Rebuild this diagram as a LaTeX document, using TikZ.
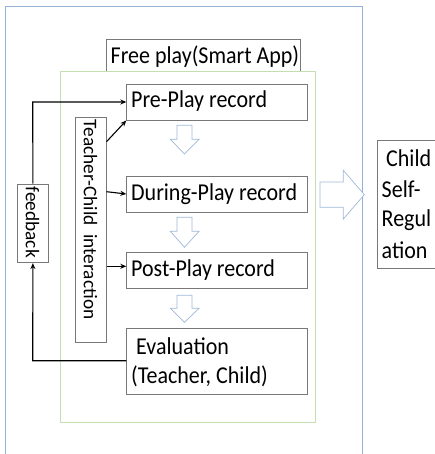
\documentclass[tikz,border=0pt]{standalone}
\usepackage{fontspec}
\setmainfont{Carlito}
\usetikzlibrary{arrows.meta}
\definecolor{outerblue}{RGB}{150,178,212}
\definecolor{innergreen}{RGB}{196,222,178}
\definecolor{boxgray}{RGB}{120,120,120}
\definecolor{arrowblue}{RGB}{160,184,216}
\newcommand{\tallt}[1]{\scalebox{1}[1.1]{#1}}
\tikzset{
  box/.style={draw=boxgray, line width=0.8pt, inner sep=0pt, anchor=north west},
  bigtext/.style={font=\fontsize{22}{30}\selectfont},
  smalltext/.style={font=\fontsize{19.3}{22}\selectfont},
  conn/.style={line width=1.1pt, -{Stealth[length=6pt,width=5pt]}},
  blockarrow/.style={draw=arrowblue, line width=0.7pt, fill=white, line join=miter},
}
\begin{document}
\begin{tikzpicture}[x=1pt,y=-1pt]
\useasboundingbox (0,0) rectangle (435,454);
% outer blue frame
\draw[outerblue, line width=0.8pt] (5.3,460) -- (5.3,6) -- (362,6) -- (362,460);
% free play box
\node[box, minimum width=193.5pt, minimum height=33pt] (free) at (106,39.5) {};
\node[bigtext, anchor=west, inner sep=0pt] (freet) at (110.5,57) {\tallt{Free play(Smart App)}};
% green frame
\node[draw=innergreen, fill=white, line width=0.8pt, minimum width=254.7pt, minimum height=350.4pt, anchor=north west, inner sep=0pt] (green) at (60.3,71.3) {};
% record boxes
\node[box, minimum width=181pt, minimum height=36pt] (pre) at (126.3,83.7) {};
\node[bigtext, anchor=west, inner sep=0pt] (pret) at (131,101.5) {\tallt{Pre-Play record}};
\node[box, minimum width=181pt, minimum height=35.7pt] (during) at (126.3,176.3) {};
\node[bigtext, anchor=west, inner sep=0pt] (duringt) at (131,194) {\tallt{During-Play record}};
\node[box, minimum width=181pt, minimum height=35.7pt] (post) at (126.3,252.3) {};
\node[bigtext, anchor=west, inner sep=0pt] (postt) at (131,270) {\tallt{Post-Play record}};
\node[box, minimum width=181pt, minimum height=66.6pt] (eval) at (126.3,327.7) {};
\node[bigtext, anchor=west, inner sep=0pt] (evalt1) at (136,346.5) {\tallt{Evaluation}};
\node[bigtext, anchor=west, inner sep=0pt] (evalt2) at (131,376.5) {\tallt{(Teacher, Child)}};
% teacher-child box
\node[box, minimum width=30.4pt, minimum height=225pt] (tc) at (75.3,117.3) {};
\node[smalltext, rotate=-90, anchor=west, inner sep=0pt] (tct) at (90.5,119.5) {Teacher-Child\ \ interaction};
% feedback box
\node[box, minimum width=30.4pt, minimum height=78.6pt] (fb) at (17.3,183.7) {};
\node[smalltext, rotate=-90, anchor=west, inner sep=0pt] (fbt) at (32.5,186.5) {feedback};
% child self-regulation box
\node[box, minimum width=70pt, minimum height=127.7pt] (child) at (377.3,140) {};
\node[bigtext, anchor=west, inner sep=0pt] (c1) at (386,158) {\tallt{Child}};
\node[bigtext, anchor=west, inner sep=0pt] (c2) at (381.5,189) {\tallt{Self-}};
\node[bigtext, anchor=west, inner sep=0pt] (c3) at (381.5,220) {\tallt{Regul}};
\node[bigtext, anchor=west, inner sep=0pt] (c4) at (381.5,250.7) {\tallt{ation}};
% down block arrows
\foreach \t/\h/\b in {125.3/139.3/154, 217.3/231.3/247.3, 295.3/308.3/322.3}{
  \draw[blockarrow] (177,\t) -- (192,\t) -- (192,\h) -- (199,\h) -- (184.5,\b) -- (170.3,\h) -- (177,\h) -- cycle;
}
% right block arrow
\draw[blockarrow] (320,182) -- (343.3,182) -- (343.3,170.3) -- (364.3,194.7) -- (343.3,219) -- (343.3,207.3) -- (320,207.3) -- cycle;
% connectors
\coordinate (fbx) at (32.7,360.7);
\coordinate (fbt2) at (32.7,102);
\draw[conn] (eval.west |- fbx) -- (fbx) -- (fb.south);
\draw[conn] (fb.north) -- (fbt2) -- (pre.west |- fbt2);
\draw[conn] (tc.east |- 0,141.7) -- (pre.south west);
\draw[conn] (tc.east |- 0,191.7) -- (during.west |- 0,194);
\draw[conn] (tc.east |- 0,266.3) -- (post.west |- 0,266.3);
\end{tikzpicture}
\end{document}
